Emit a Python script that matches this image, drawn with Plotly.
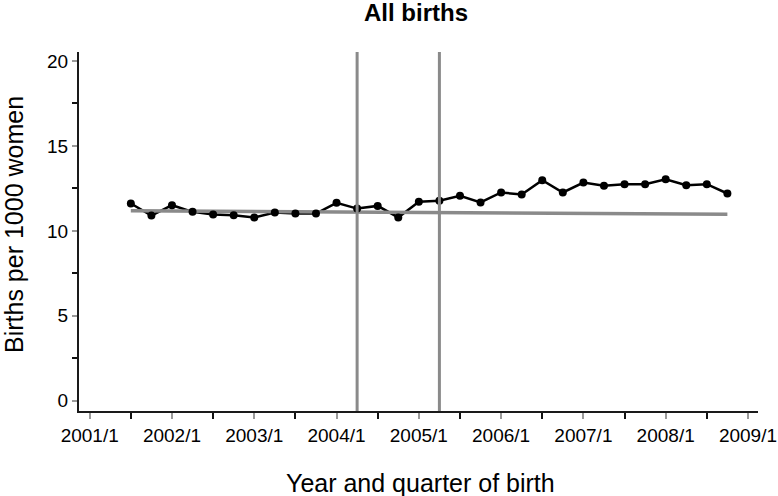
import plotly.graph_objects as go

# ---- data ----
quarters = ["2001/3", "2001/4",
            "2002/1", "2002/2", "2002/3", "2002/4",
            "2003/1", "2003/2", "2003/3", "2003/4",
            "2004/1", "2004/2", "2004/3", "2004/4",
            "2005/1", "2005/2", "2005/3", "2005/4",
            "2006/1", "2006/2", "2006/3", "2006/4",
            "2007/1", "2007/2", "2007/3", "2007/4",
            "2008/1", "2008/2", "2008/3", "2008/4"]
births = [11.61, 10.90, 11.51, 11.12, 10.96, 10.92, 10.79, 11.08, 11.02, 11.02,
          11.65, 11.31, 11.47, 10.79, 11.71, 11.77, 12.06, 11.67, 12.26, 12.14,
          12.98, 12.26, 12.84, 12.65, 12.75, 12.75, 13.04, 12.69, 12.75, 12.20]
trend_quarters = ["2001/3", "2008/4"]
trend_values = [11.18, 10.98]
event_quarters = ["2004/2", "2005/2"]
tick_labels = ["2001/1", "2002/1", "2003/1", "2004/1", "2005/1",
               "2006/1", "2007/1", "2008/1", "2009/1"]
y_ticks = [0, 5, 10, 15, 20]


def qpos(label):
    y, q = label.split("/")
    return int(y) + (int(q) - 1) / 4.0


x = [qpos(q) for q in quarters]
FONT = "Arial, Liberation Sans, sans-serif"
GRAY = "#8a8a8a"

W, H = 778, 496
ML, MR, MT, MB = 79, 20, 52, 85
PW, PH = W - ML - MR, H - MT - MB

fig = go.Figure()
fig.add_trace(go.Scatter(x=x, y=births, mode="lines",
                         line=dict(color="black", width=2.5),
                         hoverinfo="skip", showlegend=False))
fig.add_trace(go.Scatter(x=[qpos(q) for q in trend_quarters], y=trend_values,
                         mode="lines", line=dict(color=GRAY, width=3.5),
                         showlegend=False))
fig.add_trace(go.Scatter(x=x, y=births, mode="markers",
                         marker=dict(color="black", size=8),
                         showlegend=False))

for q in event_quarters:
    fig.add_shape(type="line", xref="x", yref="paper",
                  x0=qpos(q), x1=qpos(q), y0=0, y1=1,
                  line=dict(color=GRAY, width=3), layer="above")

fig.update_layout(
    template="none",
    width=W, height=H,
    margin=dict(l=ML, r=MR, t=MT, b=MB, autoexpand=False),
    paper_bgcolor="white", plot_bgcolor="white",
    font=dict(family=FONT, color="black", size=19),
    title=dict(text="<b>All births</b>", x=416 / W, xanchor="center",
               y=1 - 13 / H, yanchor="middle", yref="container",
               font=dict(size=24, family=FONT, color="black")),
    xaxis=dict(range=[2000.87, 2009.122], showgrid=False, zeroline=False,
               automargin=False,
               showline=True, linecolor="#1a1a1a", linewidth=2,
               tickmode="array", tickvals=[qpos(t) for t in tick_labels],
               ticktext=tick_labels, ticks="outside", ticklen=6,
               tickcolor="#9a9a9a", tickwidth=1.5,
               tickfont=dict(size=19),
               minor=dict(tickmode="linear", tick0=2000.5, dtick=1,
                          ticks="outside", ticklen=6, tickcolor="#111111",
                          tickwidth=2, showgrid=False)),
    yaxis=dict(range=[-0.606, 20.53], showgrid=False, zeroline=False,
               automargin=False,
               showline=True, linecolor="#1a1a1a", linewidth=2,
               tickmode="array", tickvals=y_ticks,
               ticks="outside", ticklen=5, tickcolor="#9a9a9a", tickwidth=1.5,
               tickfont=dict(size=19),
               minor=dict(tickmode="linear", tick0=2.5, dtick=5,
                          ticks="outside", ticklen=5, tickcolor="#111111",
                          tickwidth=2, showgrid=False)),
    annotations=[
        dict(text="Year and quarter of birth", xref="paper", yref="paper",
             x=(420 - ML) / PW, y=-(483 - 411) / PH, xanchor="center",
             yanchor="middle", showarrow=False,
             font=dict(size=25, family=FONT, color="black")),
        dict(text="Births per 1000 women", xref="paper", yref="paper",
             x=-(ML - 14) / PW, y=(411 - 225) / PH, xanchor="center",
             yanchor="middle", textangle=-90, showarrow=False,
             font=dict(size=25, family=FONT, color="black")),
    ],
)

fig.write_html("out.html",
               config={"displayModeBar": False},
               post_script="document.body.style.margin='0';"
                           "document.body.style.padding='0';")
